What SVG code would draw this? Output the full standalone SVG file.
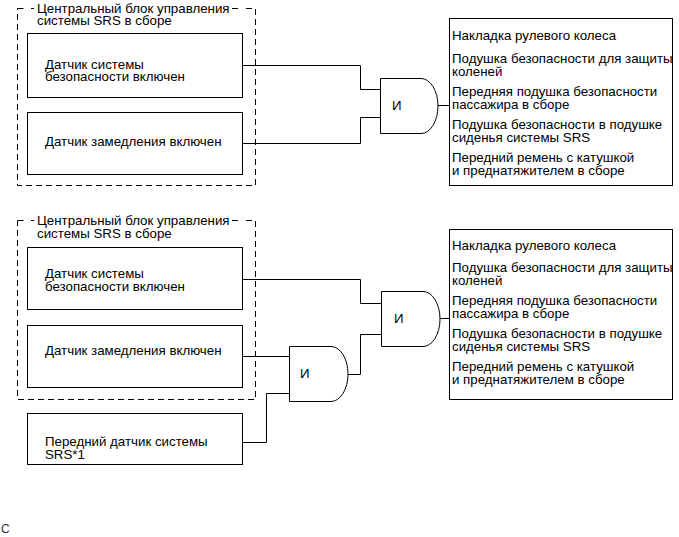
<svg xmlns="http://www.w3.org/2000/svg" width="679" height="537" viewBox="0 0 679 537">
<style>
text{font-family:"Liberation Sans",Arial,sans-serif;font-size:13.3px;fill:#000}
.box{fill:#fff;stroke:#000;stroke-width:1}
.dash{fill:none;stroke:#000;stroke-width:1;stroke-dasharray:6 4}
.gate{fill:#fff;stroke:#000;stroke-width:1}
.wire{fill:none;stroke:#000;stroke-width:1}
</style>
<rect width="679" height="537" fill="#fff"/>
<g id="connectors">
<polyline class="wire" points="242,65.5 360.5,65.5 360.5,89.5 380,89.5"/>
<polyline class="wire" points="242,143.5 360.5,143.5 360.5,117.5 380,117.5"/>
<line class="wire" x1="438" y1="105.5" x2="449" y2="105.5"/>
<polyline class="wire" points="242,279.5 360.5,279.5 360.5,303.5 381,303.5"/>
<line class="wire" x1="242" y1="356.5" x2="289" y2="356.5"/>
<polyline class="wire" points="242,442.5 266.5,442.5 266.5,393.5 289,393.5"/>
<polyline class="wire" points="348,374.5 360.5,374.5 360.5,334.5 381,334.5"/>
<line class="wire" x1="440" y1="318.5" x2="449" y2="318.5"/>
</g>
<g id="ecu1">
<path class="dash" d="M17.5,8.5 H27 M31,8.5 H34 M232,8.5 H240 M246,8.5 H255.5 V185.5 H17.5 V8.5"/>
<text x="37" y="13">Центральный блок управления</text>
<text x="37" y="25">системы SRS в сборе</text>
</g>
<g id="sensor1">
<rect class="box" x="27.5" y="33.5" width="215" height="64"/>
<text x="45" y="69">Датчик системы</text>
<text x="45" y="81">безопасности включен</text>
</g>
<g id="decel1">
<rect class="box" x="27.5" y="112.5" width="215" height="62"/>
<text x="45" y="146">Датчик замедления включен</text>
</g>
<g id="and1">
<path class="gate" d="M380.5,78.5 H421 A17,27.5 0 0 1 421,133.5 H380.5 Z"/>
<text x="392" y="110">И</text>
</g>
<g id="out1">
<rect class="box" x="449.5" y="18.5" width="223" height="167"/>
<text x="452" y="40">Накладка рулевого колеса</text>
<text x="452" y="63">Подушка безопасности для защиты</text>
<text x="452" y="75.5">коленей</text>
<text x="452" y="96">Передняя подушка безопасности</text>
<text x="452" y="108.5">пассажира в сборе</text>
<text x="452" y="129">Подушка безопасности в подушке</text>
<text x="452" y="141.5">сиденья системы SRS</text>
<text x="452" y="162">Передний ремень с катушкой</text>
<text x="452" y="174.5">и преднатяжителем в сборе</text>
</g>
<g id="ecu2">
<path class="dash" d="M17.5,220.5 H27 M31,220.5 H34 M232,220.5 H240 M246,220.5 H255.5 V399.5 H17.5 V220.5"/>
<text x="37" y="225">Центральный блок управления</text>
<text x="37" y="237.5">системы SRS в сборе</text>
</g>
<g id="sensor2">
<rect class="box" x="27.5" y="247.5" width="215" height="62"/>
<text x="45" y="278">Датчик системы</text>
<text x="45" y="290.5">безопасности включен</text>
</g>
<g id="decel2">
<rect class="box" x="27.5" y="325.5" width="215" height="62"/>
<text x="45" y="355">Датчик замедления включен</text>
</g>
<g id="front2">
<rect class="box" x="27.5" y="413.5" width="215" height="51"/>
<text x="45" y="446">Передний датчик системы</text>
<text x="45" y="458.5">SRS*1</text>
</g>
<g id="and2a">
<path class="gate" d="M381.5,291.5 H423 A17,27.5 0 0 1 423,346.5 H381.5 Z"/>
<text x="394" y="323">И</text>
</g>
<g id="and2b">
<path class="gate" d="M289.5,346.5 H331 A17,27.5 0 0 1 331,401.5 H289.5 Z"/>
<text x="300" y="378">И</text>
</g>
<g id="out2">
<rect class="box" x="449.5" y="229.5" width="223" height="170"/>
<text x="452" y="250">Накладка рулевого колеса</text>
<text x="452" y="272">Подушка безопасности для защиты</text>
<text x="452" y="284.5">коленей</text>
<text x="452" y="305">Передняя подушка безопасности</text>
<text x="452" y="317.5">пассажира в сборе</text>
<text x="452" y="338">Подушка безопасности в подушке</text>
<text x="452" y="350.5">сиденья системы SRS</text>
<text x="452" y="371">Передний ремень с катушкой</text>
<text x="452" y="383.5">и преднатяжителем в сборе</text>
</g>
<text x="1" y="533" style="font-size:12px;fill:#333">C</text>
</svg>
